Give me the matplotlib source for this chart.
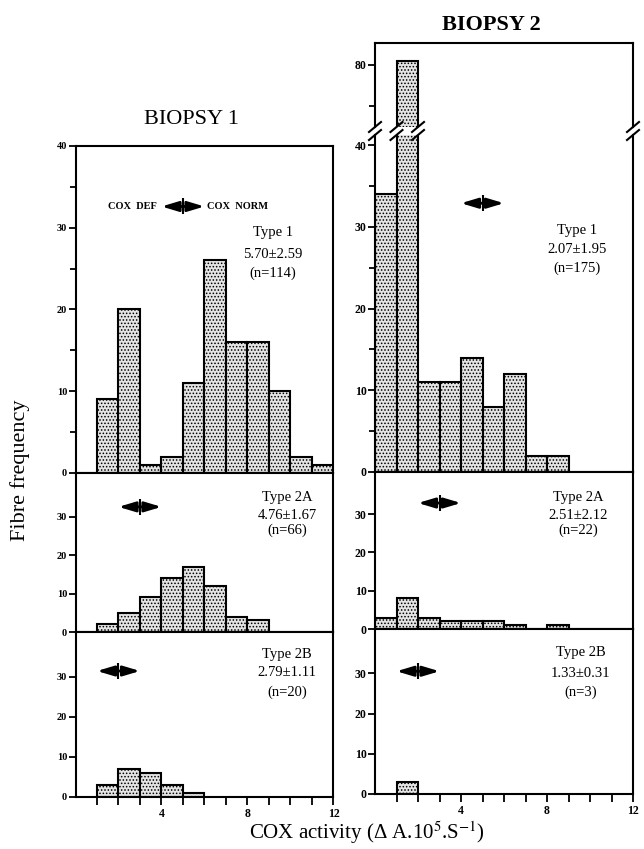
import numpy as np
import matplotlib
matplotlib.use("Agg")
import matplotlib.pyplot as plt
from matplotlib.lines import Line2D

# histogram counts per COX-activity bin (bins of width 1, from 0 to 12)
bin_edges = np.arange(0, 13)
b1_type1 = [0, 9, 20, 1, 2, 11, 26, 16, 16, 10, 2, 1]
b1_type2a = [0, 2, 5, 9, 14, 17, 12, 4, 3, 0, 0, 0]
b1_type2b = [0, 3, 7, 6, 3, 1, 0, 0, 0, 0, 0, 0]
b2_type1 = [34, 82, 11, 11, 14, 8, 12, 2, 2, 0, 0, 0]
b2_type2a = [3, 8, 3, 2, 2, 2, 1, 0, 1, 0, 0, 0]
b2_type2b = [0, 3, 0, 0, 0, 0, 0, 0, 0, 0, 0, 0]

fibre_types = ["Type 1", "Type 2A", "Type 2B"]
b1_stats = ["5.70\u00b12.59", "4.76\u00b11.67", "2.79\u00b11.11"]
b1_n = ["(n=114)", "(n=66)", "(n=20)"]
b2_stats = ["2.07\u00b11.95", "2.51\u00b12.12", "1.33\u00b10.31"]
b2_n = ["(n=175)", "(n=22)", "(n=3)"]
# COX deficient / normal threshold per fibre type
thresholds = [5, 3, 2]

plt.rcParams['font.family'] = ['Liberation Serif', 'DejaVu Serif']
plt.rcParams['mathtext.fontset'] = 'stix'
plt.rcParams['hatch.linewidth'] = 0.7

W, H = 644, 849
fig = plt.figure(figsize=(W / 100, H / 100), dpi=100)


def rect(x0, top, x1, bot):
    return [x0 / W, 1 - bot / H, (x1 - x0) / W, (bot - top) / H]


def draw_hist(ax, counts, ymax, ticks, minor, lab_size, lab_weight, bottom=False):
    c = np.array(counts)
    m = c > 0
    ax.bar(bin_edges[:-1][m], c[m], width=1, align='edge', facecolor='#e4e4e4',
           edgecolor='black', linewidth=1.5, hatch='.....')
    ax.set_xlim(0, 12)
    ax.set_ylim(0, ymax)
    for s in ax.spines.values():
        s.set_linewidth(1.5)
    ax.set_yticks(ticks)
    ax.set_yticks(minor, minor=True)
    ax.set_xticks(np.arange(1, 13))
    ax.tick_params(axis='both', which='both', direction='out', width=1.3)
    ax.tick_params(axis='y', which='major', length=5, labelsize=lab_size, pad=1)
    ax.tick_params(axis='y', which='minor', length=4)
    ax.tick_params(axis='x', length=6)
    for t in ax.get_yticklabels():
        t.set_fontweight(lab_weight)
    if bottom:
        ax.set_xticklabels(['4' if v == 4 else '8' if v == 8 else '12' if v == 12 else ''
                            for v in range(1, 13)], fontsize=8.5, fontweight='bold')
        ax.tick_params(axis='x', pad=2)
    else:
        ax.set_xticklabels([])


def marker(ax, thr, y):
    ax.annotate('', xy=(thr - 1.0, y), xytext=(thr + 1.0, y),
                arrowprops=dict(arrowstyle='<|-|>,head_length=1.0,head_width=0.3',
                                lw=2.0, color='black', shrinkA=0, shrinkB=0))
    ax.plot([thr], [y], marker='|', ms=11, mew=1.5, color='black')


def stats_text(ax, x, ys, lines):
    for yy, s in zip(ys, lines):
        ax.text(x, yy, s, transform=ax.transAxes, ha='center', va='center', fontsize=10.5)


# ---------- BIOPSY 1 ----------
L0, L1 = 75.5, 333.5
ax1 = fig.add_axes(rect(L0, 146, L1, 473))
draw_hist(ax1, b1_type1, 40, [0, 10, 20, 30, 40], [5, 15, 25, 35], 7.5, 'bold')
ax2 = fig.add_axes(rect(L0, 473, L1, 632))
draw_hist(ax2, b1_type2a, 41.3, [0, 10, 20, 30], [], 7.5, 'bold')
ax3 = fig.add_axes(rect(L0, 632, L1, 797))
draw_hist(ax3, b1_type2b, 41.25, [0, 10, 20, 30], [], 7.5, 'bold', bottom=True)

marker(ax1, thresholds[0], 32.6)
ax1.text(thresholds[0] - 1.2, 32.6, 'COX  DEF', ha='right', va='center', fontsize=7.5, fontweight='bold')
ax1.text(thresholds[0] + 1.1, 32.6, 'COX  NORM', ha='left', va='center', fontsize=7.5, fontweight='bold')
marker(ax2, thresholds[1], 32.5)
marker(ax3, thresholds[2], 31.5)
stats_text(ax1, 0.766, [0.734, 0.667, 0.612], [fibre_types[0], b1_stats[0], b1_n[0]])
stats_text(ax2, 0.82, [0.849, 0.73, 0.642], [fibre_types[1], b1_stats[1], b1_n[1]])
stats_text(ax3, 0.82, [0.861, 0.752, 0.636], [fibre_types[2], b1_stats[2], b1_n[2]])

# ---------- BIOPSY 2 ----------
R0, R1 = 375, 633
ax4 = fig.add_axes(rect(R0, 135, R1, 472))
draw_hist(ax4, b2_type1, 41.25, [0, 10, 20, 30, 40], [5, 15, 25, 35], 8.5, 'bold')
ax4.spines['top'].set_visible(False)
ax4u = fig.add_axes(rect(R0, 43, R1, 127))
draw_hist(ax4u, b2_type1, 90.7, [80], [60], 8.5, 'bold')
ax4u.set_ylim(49.8, 90.7)
ax4u.spines['bottom'].set_visible(False)
ax4u.tick_params(axis='x', length=0)
ax5 = fig.add_axes(rect(R0, 472, R1, 629))
draw_hist(ax5, b2_type2a, 41.0, [0, 10, 20, 30], [], 8.5, 'bold')
ax6 = fig.add_axes(rect(R0, 629, R1, 794))
draw_hist(ax6, b2_type2b, 41.0, [0, 10, 20, 30], [], 8.5, 'bold', bottom=True)

marker(ax4, thresholds[0], 32.9)
marker(ax5, thresholds[1], 32.9)
marker(ax6, thresholds[2], 30.5)
stats_text(ax4, 0.783, [0.718, 0.659, 0.605], [fibre_types[0], b2_stats[0], b2_n[0]])
stats_text(ax5, 0.787, [0.84, 0.72, 0.63], [fibre_types[1], b2_stats[1], b2_n[1]])
stats_text(ax6, 0.798, [0.855, 0.733, 0.618], [fibre_types[2], b2_stats[2], b2_n[2]])

# break marks on the broken axis
for xd in [0, 1, 2, 12]:
    xp = R0 + xd * (R1 - R0) / 12
    for yp in [127, 135]:
        fig.add_artist(Line2D([(xp - 6) / W, (xp + 6) / W],
                              [1 - (yp + 5) / H, 1 - (yp - 5) / H],
                              color='black', lw=1.5))

# titles and axis labels
fig.text(192 / W, 1 - 120 / H, 'BIOPSY 1', ha='center', va='center', fontsize=16)
fig.text(491 / W, 1 - 25 / H, 'BIOPSY 2', ha='center', va='center', fontsize=16, fontweight='bold')
fig.text(20 / W, 1 - 470 / H, 'Fibre frequency', rotation=90, ha='center', va='center', fontsize=16)
fig.text(367 / W, 1 - 846 / H, 'COX activity (\u0394 A.10$^{5}$.S$^{-1}$)',
         ha='center', va='bottom', fontsize=15)

fig.savefig('out.png', dpi=100)
